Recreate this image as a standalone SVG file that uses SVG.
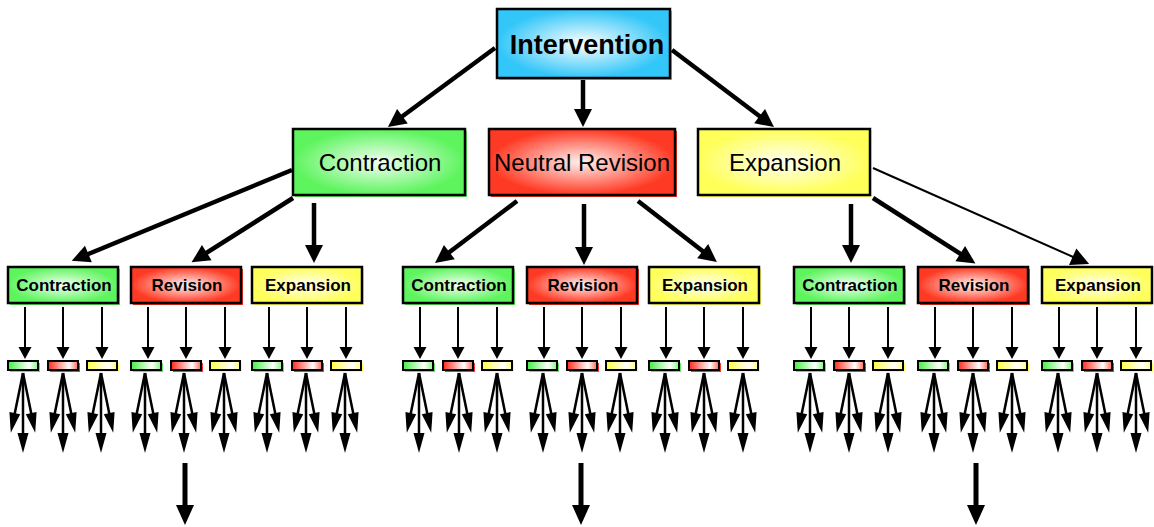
<svg xmlns="http://www.w3.org/2000/svg" xmlns:xlink="http://www.w3.org/1999/xlink" width="1154" height="527" viewBox="0 0 1154 527">
<style>
.box{stroke:#000;stroke-width:2.5}
.bar{stroke:#000;stroke-width:2}
.t0{font-family:"Liberation Sans",Arial,sans-serif;font-weight:bold;font-size:27px;fill:#000;text-anchor:middle}
.t1{font-family:"Liberation Sans",Arial,sans-serif;font-size:24px;fill:#000;text-anchor:middle}
.t2{font-family:"Liberation Sans",Arial,sans-serif;font-weight:bold;font-size:17px;fill:#000;text-anchor:middle}
.sg{fill:#55ee55}.sr{fill:#ff3322}.sy{fill:#ffff55}.sc{fill:#55ccff}
.c4{stroke:#000;stroke-width:4.5;fill:none;marker-end:url(#ah)}
.c2{stroke:#000;stroke-width:2;fill:none;marker-end:url(#ah)}
.cs{stroke:#000;stroke-width:2;fill:none;marker-end:url(#as)}
.cf{stroke:#000;stroke-width:2.5;fill:none;marker-end:url(#af)}
.cb{stroke:#000;stroke-width:5;fill:none;marker-end:url(#ab)}
</style>
<defs>
<radialGradient id="gC" r="0.62"><stop offset="0" stop-color="#fff"/><stop offset="0.8" stop-color="#33c6f8"/></radialGradient>
<radialGradient id="gG" r="0.62"><stop offset="0" stop-color="#f4fff4"/><stop offset="0.8" stop-color="#5ef45e"/></radialGradient>
<radialGradient id="gR" r="0.62"><stop offset="0" stop-color="#fff2f0"/><stop offset="0.8" stop-color="#ff3a24"/></radialGradient>
<radialGradient id="gY" r="0.62"><stop offset="0" stop-color="#fffff4"/><stop offset="0.8" stop-color="#ffff5a"/></radialGradient>
<linearGradient id="bG"><stop offset="0" stop-color="#44ee44"/><stop offset="0.7" stop-color="#fff"/><stop offset="1" stop-color="#88f588"/></linearGradient>
<linearGradient id="bR"><stop offset="0" stop-color="#ff2a1a"/><stop offset="0.7" stop-color="#fff"/><stop offset="1" stop-color="#ff6a5a"/></linearGradient>
<linearGradient id="bY"><stop offset="0" stop-color="#ffff44"/><stop offset="0.7" stop-color="#fff"/><stop offset="1" stop-color="#ffff88"/></linearGradient>
<marker id="ah" markerUnits="userSpaceOnUse" markerWidth="18" markerHeight="18" refX="8" refY="9" orient="auto" overflow="visible"><path d="M0,0 L18,9 L0,18 z" fill="#000"/></marker>
<marker id="as" markerUnits="userSpaceOnUse" markerWidth="12" markerHeight="13" refX="6" refY="6.5" orient="auto" overflow="visible"><path d="M0,0 L12,6.5 L0,13 z" fill="#000"/></marker>
<marker id="af" markerUnits="userSpaceOnUse" markerWidth="20" markerHeight="11" refX="9" refY="5.5" orient="auto" overflow="visible"><path d="M0,0 L20,5.5 L0,11 z" fill="#000"/></marker>
<marker id="ab" markerUnits="userSpaceOnUse" markerWidth="20" markerHeight="18" refX="9" refY="9" orient="auto" overflow="visible"><path d="M0,0 L20,9 L0,18 z" fill="#000"/></marker>
<g id="down"><line class="cs" x1="0" y1="0" x2="0" y2="46"/></g>
<g id="fan"><line class="cf" x1="0" y1="0" x2="0" y2="69"/><line class="cf" x1="0" y1="0" x2="-10" y2="49"/><line class="cf" x1="0" y1="0" x2="10" y2="49"/></g>
</defs>

<g id="n-intervention"><rect class="sc" x="499" y="11" width="173" height="69"/><rect class="box" x="497" y="9" width="173" height="69" fill="url(#gC)"/><text class="t0" x="587" y="54">Intervention</text></g>

<g id="n-contraction"><rect class="sg" x="295" y="131" width="172" height="66"/><rect class="box" x="293" y="129" width="172" height="66" fill="url(#gG)"/><text class="t1" x="380" y="171">Contraction</text></g>
<g id="n-neutral"><rect class="sr" x="491" y="131" width="186" height="66"/><rect class="box" x="489" y="129" width="186" height="66" fill="url(#gR)"/><text class="t1" x="582" y="171">Neutral Revision</text></g>
<g id="n-expansion"><rect class="sy" x="700" y="131" width="172" height="66"/><rect class="box" x="698" y="129" width="172" height="66" fill="url(#gY)"/><text class="t1" x="785" y="171">Expansion</text></g>

<g id="n-a-contraction"><rect class="sg" x="10" y="269" width="110" height="36"/><rect class="box" x="8" y="267" width="110" height="36" fill="url(#gG)"/><text class="t2" x="64" y="291">Contraction</text></g>
<g id="n-a-revision"><rect class="sr" x="133" y="269" width="110" height="36"/><rect class="box" x="131" y="267" width="110" height="36" fill="url(#gR)"/><text class="t2" x="187" y="291">Revision</text></g>
<g id="n-a-expansion"><rect class="sy" x="254" y="269" width="110" height="36"/><rect class="box" x="252" y="267" width="110" height="36" fill="url(#gY)"/><text class="t2" x="308" y="291">Expansion</text></g>
<g id="n-b-contraction"><rect class="sg" x="405" y="269" width="110" height="36"/><rect class="box" x="403" y="267" width="110" height="36" fill="url(#gG)"/><text class="t2" x="459" y="291">Contraction</text></g>
<g id="n-b-revision"><rect class="sr" x="529" y="269" width="110" height="36"/><rect class="box" x="527" y="267" width="110" height="36" fill="url(#gR)"/><text class="t2" x="583" y="291">Revision</text></g>
<g id="n-b-expansion"><rect class="sy" x="651" y="269" width="110" height="36"/><rect class="box" x="649" y="267" width="110" height="36" fill="url(#gY)"/><text class="t2" x="705" y="291">Expansion</text></g>
<g id="n-c-contraction"><rect class="sg" x="796" y="269" width="110" height="36"/><rect class="box" x="794" y="267" width="110" height="36" fill="url(#gG)"/><text class="t2" x="850" y="291">Contraction</text></g>
<g id="n-c-revision"><rect class="sr" x="920" y="269" width="110" height="36"/><rect class="box" x="918" y="267" width="110" height="36" fill="url(#gR)"/><text class="t2" x="974" y="291">Revision</text></g>
<g id="n-c-expansion"><rect class="sy" x="1044" y="269" width="108" height="36"/><rect class="box" x="1042" y="267" width="110" height="36" fill="url(#gY)"/><text class="t2" x="1098" y="291">Expansion</text></g>

<g id="bars">
<g id="bar-a1"><rect class="sg" x="10" y="363" width="30" height="9"/><rect class="bar" x="8" y="361" width="30" height="9" fill="url(#bG)"/></g>
<g id="bar-a2"><rect class="sr" x="50" y="363" width="30" height="9"/><rect class="bar" x="48" y="361" width="30" height="9" fill="url(#bR)"/></g>
<g id="bar-a3"><rect class="sy" x="89" y="363" width="30" height="9"/><rect class="bar" x="87" y="361" width="30" height="9" fill="url(#bY)"/></g>
<g id="bar-a4"><rect class="sg" x="133" y="363" width="30" height="9"/><rect class="bar" x="131" y="361" width="30" height="9" fill="url(#bG)"/></g>
<g id="bar-a5"><rect class="sr" x="173" y="363" width="30" height="9"/><rect class="bar" x="171" y="361" width="30" height="9" fill="url(#bR)"/></g>
<g id="bar-a6"><rect class="sy" x="212" y="363" width="30" height="9"/><rect class="bar" x="210" y="361" width="30" height="9" fill="url(#bY)"/></g>
<g id="bar-a7"><rect class="sg" x="254" y="363" width="30" height="9"/><rect class="bar" x="252" y="361" width="30" height="9" fill="url(#bG)"/></g>
<g id="bar-a8"><rect class="sr" x="294" y="363" width="30" height="9"/><rect class="bar" x="292" y="361" width="30" height="9" fill="url(#bR)"/></g>
<g id="bar-a9"><rect class="sy" x="333" y="363" width="30" height="9"/><rect class="bar" x="331" y="361" width="30" height="9" fill="url(#bY)"/></g>
<g id="bar-b1"><rect class="sg" x="405" y="363" width="30" height="9"/><rect class="bar" x="403" y="361" width="30" height="9" fill="url(#bG)"/></g>
<g id="bar-b2"><rect class="sr" x="445" y="363" width="30" height="9"/><rect class="bar" x="443" y="361" width="30" height="9" fill="url(#bR)"/></g>
<g id="bar-b3"><rect class="sy" x="484" y="363" width="30" height="9"/><rect class="bar" x="482" y="361" width="30" height="9" fill="url(#bY)"/></g>
<g id="bar-b4"><rect class="sg" x="529" y="363" width="30" height="9"/><rect class="bar" x="527" y="361" width="30" height="9" fill="url(#bG)"/></g>
<g id="bar-b5"><rect class="sr" x="569" y="363" width="30" height="9"/><rect class="bar" x="567" y="361" width="30" height="9" fill="url(#bR)"/></g>
<g id="bar-b6"><rect class="sy" x="608" y="363" width="30" height="9"/><rect class="bar" x="606" y="361" width="30" height="9" fill="url(#bY)"/></g>
<g id="bar-b7"><rect class="sg" x="651" y="363" width="30" height="9"/><rect class="bar" x="649" y="361" width="30" height="9" fill="url(#bG)"/></g>
<g id="bar-b8"><rect class="sr" x="691" y="363" width="30" height="9"/><rect class="bar" x="689" y="361" width="30" height="9" fill="url(#bR)"/></g>
<g id="bar-b9"><rect class="sy" x="730" y="363" width="30" height="9"/><rect class="bar" x="728" y="361" width="30" height="9" fill="url(#bY)"/></g>
<g id="bar-c1"><rect class="sg" x="796" y="363" width="30" height="9"/><rect class="bar" x="794" y="361" width="30" height="9" fill="url(#bG)"/></g>
<g id="bar-c2"><rect class="sr" x="836" y="363" width="30" height="9"/><rect class="bar" x="834" y="361" width="30" height="9" fill="url(#bR)"/></g>
<g id="bar-c3"><rect class="sy" x="875" y="363" width="30" height="9"/><rect class="bar" x="873" y="361" width="30" height="9" fill="url(#bY)"/></g>
<g id="bar-c4"><rect class="sg" x="920" y="363" width="30" height="9"/><rect class="bar" x="918" y="361" width="30" height="9" fill="url(#bG)"/></g>
<g id="bar-c5"><rect class="sr" x="960" y="363" width="30" height="9"/><rect class="bar" x="958" y="361" width="30" height="9" fill="url(#bR)"/></g>
<g id="bar-c6"><rect class="sy" x="999" y="363" width="30" height="9"/><rect class="bar" x="997" y="361" width="30" height="9" fill="url(#bY)"/></g>
<g id="bar-c7"><rect class="sg" x="1044" y="363" width="30" height="9"/><rect class="bar" x="1042" y="361" width="30" height="9" fill="url(#bG)"/></g>
<g id="bar-c8"><rect class="sr" x="1084" y="363" width="30" height="9"/><rect class="bar" x="1082" y="361" width="30" height="9" fill="url(#bR)"/></g>
<g id="bar-c9"><rect class="sy" x="1123" y="363" width="30" height="9"/><rect class="bar" x="1121" y="361" width="30" height="9" fill="url(#bY)"/></g>
</g>

<g id="connectors">
<line class="c4" x1="495" y1="48" x2="396" y2="121"/>
<line class="c4" x1="583" y1="80" x2="583" y2="117"/>
<line class="c4" x1="672" y1="50" x2="766" y2="121"/>
<line class="c4" x1="292" y1="170" x2="81" y2="257"/>
<line class="c4" x1="293" y1="198" x2="200" y2="257"/>
<line class="c4" x1="314" y1="203" x2="314" y2="253"/>
<line class="c4" x1="517" y1="201" x2="443" y2="257"/>
<line class="c4" x1="584" y1="204" x2="584" y2="255"/>
<line class="c4" x1="638" y1="201" x2="709" y2="256"/>
<line class="c4" x1="851" y1="204" x2="851" y2="253"/>
<line class="c4" x1="873" y1="198" x2="967" y2="258"/>
<line class="c2" x1="873" y1="168" x2="1080" y2="260"/>
<use xlink:href="#down" x="25" y="307"/><use xlink:href="#down" x="63" y="307"/><use xlink:href="#down" x="102" y="307"/>
<use xlink:href="#down" x="148" y="307"/><use xlink:href="#down" x="186" y="307"/><use xlink:href="#down" x="225" y="307"/>
<use xlink:href="#down" x="269" y="307"/><use xlink:href="#down" x="307" y="307"/><use xlink:href="#down" x="346" y="307"/>
<use xlink:href="#down" x="420" y="307"/><use xlink:href="#down" x="458" y="307"/><use xlink:href="#down" x="497" y="307"/>
<use xlink:href="#down" x="544" y="307"/><use xlink:href="#down" x="582" y="307"/><use xlink:href="#down" x="621" y="307"/>
<use xlink:href="#down" x="666" y="307"/><use xlink:href="#down" x="704" y="307"/><use xlink:href="#down" x="743" y="307"/>
<use xlink:href="#down" x="811" y="307"/><use xlink:href="#down" x="849" y="307"/><use xlink:href="#down" x="888" y="307"/>
<use xlink:href="#down" x="935" y="307"/><use xlink:href="#down" x="973" y="307"/><use xlink:href="#down" x="1012" y="307"/>
<use xlink:href="#down" x="1059" y="307"/><use xlink:href="#down" x="1097" y="307"/><use xlink:href="#down" x="1136" y="307"/>
<use xlink:href="#fan" x="23" y="373"/><use xlink:href="#fan" x="63" y="373"/><use xlink:href="#fan" x="101" y="373"/>
<use xlink:href="#fan" x="145" y="373"/><use xlink:href="#fan" x="184" y="373"/><use xlink:href="#fan" x="224" y="373"/>
<use xlink:href="#fan" x="267" y="373"/><use xlink:href="#fan" x="306" y="373"/><use xlink:href="#fan" x="345" y="373"/>
<use xlink:href="#fan" x="419" y="373"/><use xlink:href="#fan" x="459" y="373"/><use xlink:href="#fan" x="497" y="373"/>
<use xlink:href="#fan" x="543" y="373"/><use xlink:href="#fan" x="582" y="373"/><use xlink:href="#fan" x="620" y="373"/>
<use xlink:href="#fan" x="665" y="373"/><use xlink:href="#fan" x="704" y="373"/><use xlink:href="#fan" x="743" y="373"/>
<use xlink:href="#fan" x="810" y="373"/><use xlink:href="#fan" x="849" y="373"/><use xlink:href="#fan" x="888" y="373"/>
<use xlink:href="#fan" x="934" y="373"/><use xlink:href="#fan" x="973" y="373"/><use xlink:href="#fan" x="1012" y="373"/>
<use xlink:href="#fan" x="1058" y="373"/><use xlink:href="#fan" x="1097" y="373"/><use xlink:href="#fan" x="1136" y="373"/>
<line class="cb" x1="185" y1="463" x2="185" y2="514"/>
<line class="cb" x1="581" y1="463" x2="581" y2="514"/>
<line class="cb" x1="976" y1="463" x2="976" y2="514"/>
</g>
</svg>
